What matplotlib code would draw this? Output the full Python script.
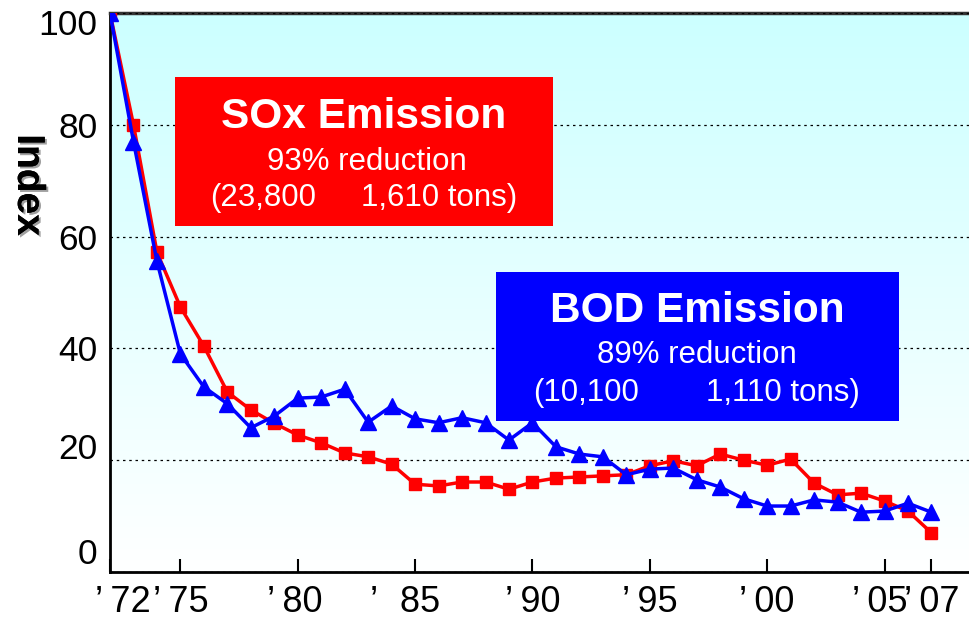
import matplotlib
matplotlib.use("Agg")
import matplotlib.pyplot as plt
import matplotlib.transforms as mtransforms
import matplotlib.patheffects as pe
from matplotlib.patches import Rectangle
import numpy as np

plt.rcParams['font.family'] = ['Liberation Sans', 'DejaVu Sans']

years = list(range(1972, 2008))
sox = [100, 80, 57.2, 47.4, 40.4, 32.2, 29.0, 26.6, 24.5, 23.1, 21.3, 20.6, 19.3,
       15.7, 15.4, 16.1, 16.1, 14.8, 16.1, 16.8, 17.0, 17.2, 17.4, 19.0, 19.9,
       19.0, 21.1, 20.0, 19.1, 20.2, 15.9, 13.8, 14.1, 12.7, 10.9, 7.0]
bod = [100, 77, 55.6, 39.0, 33.1, 30.1, 25.8, 27.9, 31.1, 31.3, 32.7, 26.8, 29.7,
       27.4, 26.7, 27.6, 26.7, 23.6, 26.7, 22.4, 21.1, 20.6, 17.4, 18.4, 18.6,
       16.5, 15.2, 13.1, 11.8, 11.8, 12.9, 12.5, 10.7, 10.9, 12.3, 10.7]

T = "\u2009"
xtick_years = [1972, 1975, 1980, 1985, 1990, 1995, 2000, 2005, 2007]
xtick_labels = ["\u2019" + T + "72", "\u2019" + T + "75", "\u2019" + T + "80",
                "\u2019" + T + T + T + "85", "\u2019" + T + "90", "\u2019" + T + "95",
                "\u2019" + T + "00", "\u2019" + T + "05", "\u2019" + T + "07"]
ytick_vals = [0, 20, 40, 60, 80, 100]
ytick_labels = ["0", "20", "40", "60", "80", "100"]

W, H = 969, 620
fig = plt.figure(figsize=(W / 100, H / 100), dpi=100)
ax_l, ax_r, ax_t, ax_b = 110, 969, 13, 572
ax = fig.add_axes([ax_l / W, 1 - ax_b / H, (ax_r - ax_l) / W, (ax_b - ax_t) / H])

# gradient background
grad = np.linspace(0, 1, 256).reshape(-1, 1)
top = np.array([0.80, 1.0, 1.0])
bot = np.array([1.0, 1.0, 1.0])
img = bot[None, None, :] * (1 - grad[:, :, None]) + top[None, None, :] * grad[:, :, None]
ax.imshow(img, extent=[0, 1, 0, 1], transform=ax.transAxes, origin='lower',
          aspect='auto', zorder=0)

ax.set_xlim(1972, 2008.6)
ax.set_ylim(0, 100)

ax.plot(years, sox, color='#FF0000', lw=2.5, marker='s', ms=8, zorder=5)
ax.plot(years, bod, color='#0000FF', lw=2.5, marker='^', ms=11, zorder=6)

# grid
ax.set_yticks(ytick_vals)
ax.set_yticklabels(ytick_labels, fontsize=25.5)
ax.yaxis.grid(True, linestyle=(0, (2, 3)), color='black', lw=0.9, zorder=1)
ax.tick_params(axis='y', length=0, pad=9)
ax.set_axisbelow(False)
offsets = [21, 14, 0, 0, 0, -9]
for lab, dy in zip(ax.get_yticklabels(), offsets):
    lab.set_transform(lab.get_transform() +
                      mtransforms.ScaledTranslation(0, dy / 100, fig.dpi_scale_trans))

ax.set_xticks(xtick_years)
ax.set_xticklabels(xtick_labels, fontsize=26)
ax.tick_params(axis='x', direction='in', length=9.5, width=1.5, pad=9)
xoffs = [13, 0, -3, -10, 0, 0, 0, -5, 0]
for lab, dx in zip(ax.get_xticklabels(), xoffs):
    lab.set_transform(lab.get_transform() +
                      mtransforms.ScaledTranslation(dx / 100, 0, fig.dpi_scale_trans))

for s in ['left', 'bottom']:
    ax.spines[s].set_linewidth(2)
    ax.spines[s].set_color('black')
ax.spines['top'].set_linewidth(2.5)
ax.spines['top'].set_color('#333333')
ax.spines['right'].set_visible(False)

fig.text(28 / W, 1 - 185 / H, "Index", rotation=-90, fontsize=28, fontweight='bold',
         ha='center', va='center',
         path_effects=[pe.withSimplePatchShadow(offset=(1.5, -1.5), shadow_rgbFace='#888888', alpha=0.8),
                       pe.Normal()])

def px2ax(x, y):
    return (x - ax_l) / (ax_r - ax_l), (ax_b - y) / (ax_b - ax_t)

def box(xa, ya, xb, yb, color):
    x0, y0 = px2ax(xa, yb)
    x1, y1 = px2ax(xb, ya)
    ax.add_patch(Rectangle((x0, y0), x1 - x0, y1 - y0, transform=ax.transAxes,
                           facecolor=color, edgecolor='none', zorder=3))

def txt(x, y, s, size, ha='center', weight='normal'):
    cx, cy = px2ax(x, y)
    ax.text(cx, cy, s, transform=ax.transAxes, color='white', fontsize=size,
            fontweight=weight, ha=ha, va='center', zorder=4)

# red box
box(175, 77, 553, 226, '#FF0000')
txt(364, 117, "SOx Emission", 30.5, weight='bold')
txt(367, 162, "93% reduction", 22.5)
txt(210, 198, "(23,800", 22.5, ha='left')
txt(517, 198, "1,610 tons)", 22.5, ha='right')

# blue box
box(496, 272, 899, 421, '#0000FF')
txt(697, 311, "BOD Emission", 30.5, weight='bold')
txt(697, 355, "89% reduction", 22.5)
txt(533, 393, "(10,100", 22.5, ha='left')
txt(860, 393, "1,110 tons)", 22.5, ha='right')

fig.savefig("out.png", dpi=100)
